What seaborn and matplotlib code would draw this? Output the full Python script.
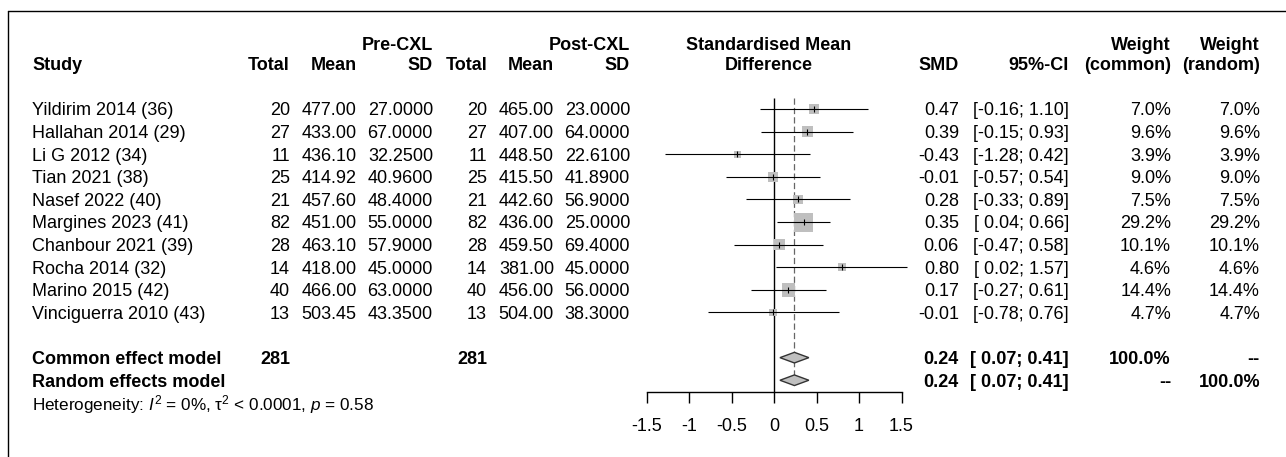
import numpy as np
import pandas as pd
import matplotlib
matplotlib.use("Agg")
import matplotlib.pyplot as plt
import seaborn as sns
from matplotlib.transforms import blended_transform_factory
from matplotlib.lines import Line2D

# ---------------- data ----------------
studies = ["Yildirim 2014 (36)", "Hallahan 2014 (29)", "Li G 2012 (34)", "Tian 2021 (38)",
           "Nasef 2022 (40)", "Margines 2023 (41)", "Chanbour 2021 (39)", "Rocha 2014 (32)",
           "Marino 2015 (42)", "Vinciguerra 2010 (43)"]
n_pre = [20, 27, 11, 25, 21, 82, 28, 14, 40, 13]
mean_pre = [477.00, 433.00, 436.10, 414.92, 457.60, 451.00, 463.10, 418.00, 466.00, 503.45]
sd_pre = [27.0, 67.0, 32.25, 40.96, 48.40, 55.0, 57.90, 45.0, 63.0, 43.35]
n_post = [20, 27, 11, 25, 21, 82, 28, 14, 40, 13]
mean_post = [465.00, 407.00, 448.50, 415.50, 442.60, 436.00, 459.50, 381.00, 456.00, 504.00]
sd_post = [23.0, 64.0, 22.61, 41.89, 56.90, 25.0, 69.40, 45.0, 56.0, 38.30]
smd = [0.47, 0.39, -0.43, -0.01, 0.28, 0.35, 0.06, 0.80, 0.17, -0.01]
ci_lo = [-0.16, -0.15, -1.28, -0.57, -0.33, 0.04, -0.47, 0.02, -0.27, -0.78]
ci_hi = [1.10, 0.93, 0.42, 0.54, 0.89, 0.66, 0.58, 1.57, 0.61, 0.76]
w_common = [7.0, 9.6, 3.9, 9.0, 7.5, 29.2, 10.1, 4.6, 14.4, 4.7]
w_random = [7.0, 9.6, 3.9, 9.0, 7.5, 29.2, 10.1, 4.6, 14.4, 4.7]

pooled_labels = ["Common effect model", "Random effects model"]
pooled_est = [0.24, 0.24]
pooled_lo = [0.07, 0.07]
pooled_hi = [0.41, 0.41]
pooled_total = ["281", ""]
pooled_wc = ["100.0%", "--"]
pooled_wr = ["--", "100.0%"]
hetero_text = r"Heterogeneity: $I^2$ = 0%, $\mathrm{\tau}^2$ < 0.0001, $p$ = 0.58"
x_ticks = [-1.5, -1, -0.5, 0, 0.5, 1, 1.5]
x_ticklabels = ["-1.5", "-1", "-0.5", "0", "0.5", "1", "1.5"]

# ---------------- style ----------------
sns.set_theme(style="white")
plt.rcParams['font.family'] = ['Liberation Sans', 'DejaVu Sans']
plt.rcParams['mathtext.fontset'] = 'custom'
plt.rcParams['mathtext.rm'] = 'Liberation Sans'
plt.rcParams['mathtext.it'] = 'Liberation Sans:italic'
plt.rcParams['mathtext.bf'] = 'Liberation Sans:bold'

W, H = 1286, 457
FS = 13
fig = plt.figure(figsize=(W / 100, H / 100), dpi=100, facecolor='white')
ax = fig.add_axes([646.5 / W, 1 - 392 / H, 255 / W, (392 - 20) / H])
ax.set_facecolor('none')

n = len(studies)
rows = np.arange(n)
df = pd.DataFrame(dict(study=studies, smd=smd, lo=ci_lo, hi=ci_hi, row=rows, w=w_common))

# CI lines
ax.hlines(df["row"], df["lo"], df["hi"], color='black', lw=0.8, zorder=3, clip_on=False)
# squares sized by weight
sns.scatterplot(data=df, x="smd", y="row", size="w", sizes=(0, 187), size_norm=(0, 29.2),
                marker='s', color='#BFBFBF', edgecolor='none', linewidth=0, legend=False,
                ax=ax, zorder=2, clip_on=False)
# point tick
ax.scatter(df["smd"], df["row"], marker='|', s=22, color='black', linewidths=0.8, zorder=4, clip_on=False)

# pooled diamonds
pool_rows = [n + 1, n + 2]
h = 0.235
for r, e, lo, hi in zip(pool_rows, pooled_est, pooled_lo, pooled_hi):
    ax.fill([lo, e, hi, e], [r, r - h, r, r + h], facecolor='#BFBFBF', edgecolor='#333333',
            lw=1.0, zorder=4, clip_on=False)

# reference lines
ax.vlines(0, -0.5, 12.52, color='black', lw=1.0, zorder=1, clip_on=False)
ax.vlines(pooled_est[0], -0.5, pool_rows[1] - h, color='#666666', lw=0.9,
          linestyles=(0, (5, 2.5)), zorder=1, clip_on=False)

ax.set_xlim(-1.5, 1.5)
ax.set_ylim(12.52, -3.94)
for s in ['top', 'left', 'right']:
    ax.spines[s].set_visible(False)
ax.spines['bottom'].set_color('black')
ax.spines['bottom'].set_linewidth(1.0)
ax.set_xticks(x_ticks)
ax.set_xticklabels(x_ticklabels)
ax.set_yticks([])
ax.tick_params(axis='x', bottom=True, direction='out', length=7.7, width=1.0, pad=11,
               labelsize=FS, colors='black')
ax.set_xlabel("")
ax.set_ylabel("")

# ---------------- text columns ----------------
trans = blended_transform_factory(fig.transFigure, ax.transData)
BASE = 0.28


def put(xpx, row, s, ha='right', bold=False, size=FS):
    ax.text(xpx / W, row + BASE, s, transform=trans, ha=ha, va='baseline', fontsize=size,
            fontweight='bold' if bold else 'normal', color='black', clip_on=False)


X_STUDY, X_NPRE, X_MPRE, X_SPRE = 32, 290, 356.5, 433
X_NPOST, X_MPOST, X_SPOST = 487, 554, 630
X_FOREST, X_SMD, X_CI, X_WC, X_WR = 769, 959, 1069, 1171, 1260

H1, H2 = -2.9, -2.0
put(X_SPRE, H1, "Pre-CXL", bold=True)
put(X_SPOST, H1, "Post-CXL", bold=True)
put(X_FOREST, H1, "Standardised Mean", ha='center', bold=True)
put(X_WC, H1, "Weight", bold=True)
put(X_WR, H1, "Weight", bold=True)
put(X_STUDY, H2, "Study", ha='left', bold=True)
for x, s in [(X_NPRE, "Total"), (X_MPRE, "Mean"), (X_SPRE, "SD"), (X_NPOST, "Total"),
             (X_MPOST, "Mean"), (X_SPOST, "SD"), (X_SMD, "SMD"), (X_CI, "95%-CI"),
             (X_WC, "(common)"), (X_WR, "(random)")]:
    put(x, H2, s, bold=True)
put(X_FOREST, H2, "Difference", ha='center', bold=True)


def ci_str(lo, hi):
    a = f"{lo:.2f}" if lo < 0 else f" {lo:.2f}"
    return f"[{a}; {hi:.2f}]"


for i in range(n):
    put(X_STUDY, i, studies[i], ha='left')
    put(X_NPRE, i, f"{n_pre[i]}")
    put(X_MPRE, i, f"{mean_pre[i]:.2f}")
    put(X_SPRE, i, f"{sd_pre[i]:.4f}")
    put(X_NPOST, i, f"{n_post[i]}")
    put(X_MPOST, i, f"{mean_post[i]:.2f}")
    put(X_SPOST, i, f"{sd_post[i]:.4f}")
    put(X_SMD, i, f"{smd[i]:.2f}")
    put(X_CI, i, ci_str(ci_lo[i], ci_hi[i]))
    put(X_WC, i, f"{w_common[i]:.1f}%")
    put(X_WR, i, f"{w_random[i]:.1f}%")

for k, r in enumerate(pool_rows):
    put(X_STUDY, r, pooled_labels[k], ha='left', bold=True)
    put(X_NPRE, r, pooled_total[k], bold=True)
    put(X_NPOST, r, pooled_total[k], bold=True)
    put(X_SMD, r, f"{pooled_est[k]:.2f}", bold=True)
    put(X_CI, r, ci_str(pooled_lo[k], pooled_hi[k]), bold=True)
    put(X_WC, r, pooled_wc[k], bold=True)
    put(X_WR, r, pooled_wr[k], bold=True)

put(X_STUDY, 13.05, hetero_text, ha='left', size=12.3)

# frame (left and top edges visible)
fig.add_artist(Line2D([8 / W, 8 / W], [0, 1 - 10.7 / H], transform=fig.transFigure,
                      color='black', lw=1.0))
fig.add_artist(Line2D([8 / W, 1.0], [1 - 10.7 / H, 1 - 10.7 / H], transform=fig.transFigure,
                      color='black', lw=1.0))

fig.savefig("out.png", dpi=100, facecolor='white')
